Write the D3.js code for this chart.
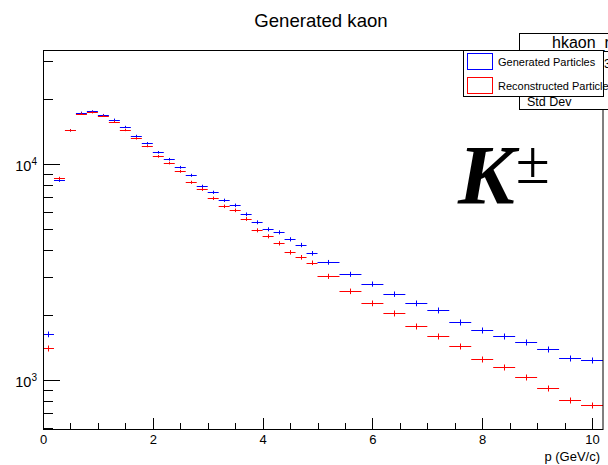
<!DOCTYPE html>
<html>
<head>
<meta charset="utf-8">
<script src="https://cdn.jsdelivr.net/npm/d3@7"></script>
<style>
  html, body { margin: 0; padding: 0; background: #fff; }
  svg { display: block; }
  svg text { font-family: "Liberation Sans", Arial, Helvetica, sans-serif; }
  svg text.latex { font-family: "Liberation Serif", "Times New Roman", serif; }
</style>
</head>
<body>
<script>
// ---- data ----
const binCenters = [0.1, 0.3, 0.5, 0.7, 0.9, 1.1, 1.3, 1.5, 1.7, 1.9,
                    2.1, 2.3, 2.5, 2.7, 2.9, 3.1, 3.3, 3.5, 3.7, 3.9,
                    4.1, 4.3, 4.5, 4.7, 4.9,
                    5.2, 5.6, 6.0, 6.4, 6.8, 7.2, 7.6, 8.0, 8.4, 8.8, 9.2, 9.6, 10.0];
const binWidths = [0.2, 0.2, 0.2, 0.2, 0.2, 0.2, 0.2, 0.2, 0.2, 0.2,
                   0.2, 0.2, 0.2, 0.2, 0.2, 0.2, 0.2, 0.2, 0.2, 0.2,
                   0.2, 0.2, 0.2, 0.2, 0.2,
                   0.4, 0.4, 0.4, 0.4, 0.4, 0.4, 0.4, 0.4, 0.4, 0.4, 0.4, 0.4, 0.4];
const generated = [1638, 8404, 14322, 17280, 17540, 16860, 16040, 14840, 13480, 12470,
                   11330, 10515, 9654, 8866, 7884, 7396, 6789, 6438, 5850, 5373,
                   4985, 4828, 4481, 4217, 3860,
                   3507, 3086, 2783, 2501, 2266, 2102, 1849, 1698, 1594, 1500, 1387, 1260, 1238];
const reconstructed = [1402, 8586, 14322, 17100, 17350, 16730, 15700, 14370, 13150, 12120,
                       10855, 10107, 9252, 8230, 7636, 6937, 6370, 6104, 5565, 4932,
                       4627, 4294, 3901, 3699, 3493,
                       3020, 2574, 2266, 2036, 1773, 1594, 1432, 1255, 1145, 1029, 918, 808, 764];
const xTickLabels = ["0", "2", "4", "6", "8", "10"];
const yTickExponents = [3, 4];
const seriesNames = ["Generated Particles", "Reconstructed Particles"];
const seriesColors = ["#0000ff", "#ff0000"];
const title = "Generated kaon";
const xTitle = "p (GeV/c)";
const statsTitle = "hkaon_reco";

// ---- layout ----
const W = 608, H = 465;
const frame = {left: 43, right: 603, top: 50, bottom: 429};

const svg = d3.select("body").append("svg").attr("width", W).attr("height", H);
svg.append("rect").attr("width", W).attr("height", H).attr("fill", "#fff");

const x = d3.scaleLinear().domain([0, 10.2]).range([frame.left, frame.right]);
const y = d3.scaleLog().domain([593, 33720]).range([frame.bottom, frame.top]);

// ---- data marks (error-bar style) ----
const plot = svg.append("g");
function drawSeries(values, color) {
  const g = plot.append("g").attr("stroke", color).attr("stroke-width", 1).attr("fill", "none");
  values.forEach((v, i) => {
    const c = binCenters[i], w = binWidths[i];
    const yy = Math.round(y(v)) + 0.5;
    const err = 1.5 * Math.sqrt(v);
    const xc = Math.round(x(c)) + 0.5;
    g.append("line")
      .attr("x1", x(c - w / 2)).attr("x2", x(c + w / 2))
      .attr("y1", yy).attr("y2", yy);
    g.append("line")
      .attr("x1", xc).attr("x2", xc)
      .attr("y1", Math.min(y(v - err), yy + 3)).attr("y2", Math.max(y(v + err), yy - 3));
  });
}
drawSeries(generated, seriesColors[0]);
drawSeries(reconstructed, seriesColors[1]);

// ---- frame ----
svg.append("rect")
  .attr("x", frame.left + 0.5).attr("y", frame.top + 0.5)
  .attr("width", frame.right - frame.left - 0.5).attr("height", frame.bottom - frame.top)
  .attr("fill", "none").attr("stroke", "#000").attr("stroke-width", 1);

// ---- x axis ----
const xAxis = d3.axisBottom(x)
  .tickValues(d3.range(0, 10.01, 2))
  .tickFormat((d, i) => xTickLabels[i])
  .tickSizeInner(-11).tickSizeOuter(0).tickPadding(6);
const gx = svg.append("g").attr("transform", `translate(0,${frame.bottom})`).call(xAxis);
gx.select(".domain").remove();
gx.selectAll(".tick line").attr("stroke", "#000").attr("shape-rendering", "crispEdges");
gx.selectAll(".tick text").attr("font-size", 13).attr("fill", "#000");
const minorX = d3.range(0, 10.21, 0.5).filter(d => Math.abs(d / 2 - Math.round(d / 2)) > 1e-6);
svg.append("g").selectAll("line").data(minorX).join("line")
  .attr("x1", d => Math.round(x(d)) + 0.5).attr("x2", d => Math.round(x(d)) + 0.5)
  .attr("y1", frame.bottom).attr("y2", frame.bottom - 6)
  .attr("stroke", "#000").attr("stroke-width", 1);

svg.append("text").attr("x", 600).attr("y", 461).attr("text-anchor", "end")
  .attr("font-size", 13).text(xTitle);

// ---- y axis (log) ----
const majorY = yTickExponents.map(e => Math.pow(10, e));
const minorY = [];
[2, 3].forEach(e => { for (let k = 2; k <= 9; k++) { const v = k * Math.pow(10, e); if (v >= 593 && v <= 33720 && v !== 1000) minorY.push(v); } });
[2, 3].forEach(k => minorY.push(k * 1e4));
const yAxisMinor = d3.axisLeft(y).tickValues(minorY).tickFormat("").tickSizeInner(-10).tickSizeOuter(0);
const gym = svg.append("g").attr("transform", `translate(${frame.left},0)`).call(yAxisMinor);
gym.select(".domain").remove();
gym.selectAll(".tick line").attr("stroke", "#000").attr("shape-rendering", "crispEdges");

const yAxisMajor = d3.axisLeft(y).tickValues(majorY).tickFormat("").tickSizeInner(-17).tickSizeOuter(0);
const gyM = svg.append("g").attr("transform", `translate(${frame.left},0)`).call(yAxisMajor);
gyM.select(".domain").remove();
gyM.selectAll(".tick line").attr("stroke", "#000").attr("shape-rendering", "crispEdges");

majorY.forEach((v, i) => {
  const t = svg.append("text").attr("x", 37).attr("y", y(v) + 7).attr("text-anchor", "end")
    .attr("font-size", 14.5);
  t.append("tspan").text("10");
  t.append("tspan").attr("font-size", 10).attr("dy", -6).text(String(yTickExponents[i]));
});

// ---- title ----
svg.append("text").attr("x", 321).attr("y", 27).attr("text-anchor", "middle")
  .attr("font-size", 18.6).text(title);

// ---- stats box (partially off-canvas) ----
const stats = svg.append("g");
stats.append("rect").attr("x", 519.5).attr("y", 33.5).attr("width", 120).attr("height", 76)
  .attr("fill", "#fff").attr("stroke", "#000");
stats.append("line").attr("x1", 519.5).attr("x2", 640).attr("y1", 51.5).attr("y2", 51.5).attr("stroke", "#000");
stats.append("text").attr("x", 552).attr("y", 48).attr("font-size", 16).text(statsTitle);
stats.append("text").attr("x", 527).attr("y", 68).attr("font-size", 12.5).text("Entries");
stats.append("text").attr("x", 604).attr("y", 68).attr("font-size", 12.5).text("312567");
stats.append("text").attr("x", 527).attr("y", 87).attr("font-size", 12.5).text("Mean");
stats.append("text").attr("x", 527).attr("y", 106).attr("font-size", 12.5).text("Std Dev");

// ---- legend ----
const leg = svg.append("g");
leg.append("rect").attr("x", 463.5).attr("y", 50.5).attr("width", 140).attr("height", 46)
  .attr("fill", "#fff").attr("stroke", "#000");
seriesNames.forEach((name, i) => {
  const yy = 53.5 + i * 24;
  leg.append("rect").attr("x", 467.5).attr("y", yy).attr("width", 25).attr("height", 16)
    .attr("fill", "#fff").attr("stroke", seriesColors[i]);
  leg.append("text").attr("x", 498).attr("y", yy + 12.5).attr("font-size", 11).text(name);
});

// ---- K± label ----
const k = svg.append("text").attr("class", "latex").attr("x", 458).attr("y", 204);
k.append("tspan").attr("font-size", 85).attr("font-weight", "bold").attr("font-style", "italic").text("K");
k.append("tspan").attr("font-size", 62).attr("dy", -21).attr("dx", 1).text("±");
</script>
</body>
</html>
